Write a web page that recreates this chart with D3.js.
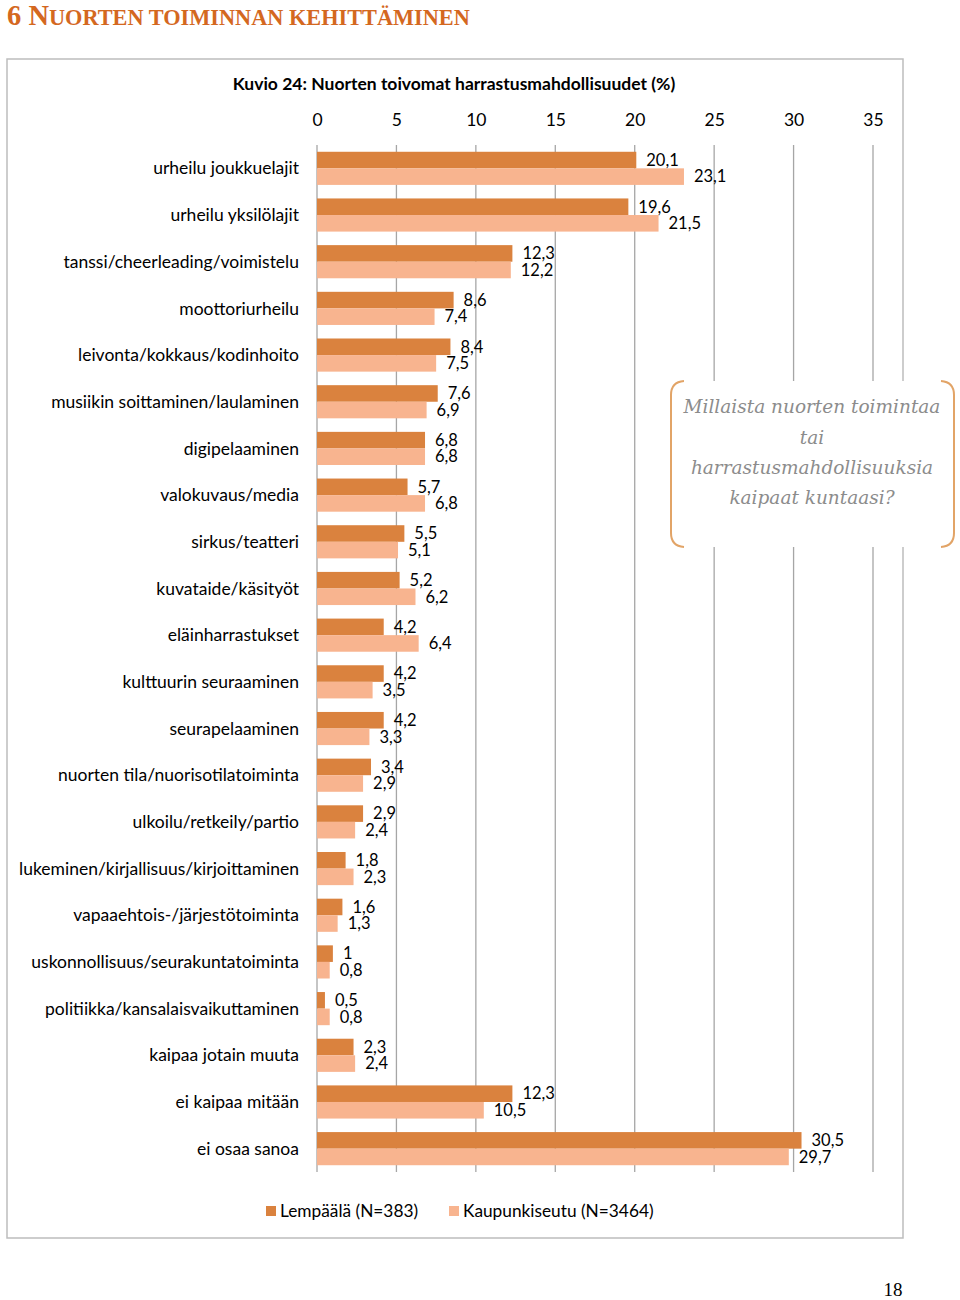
<!DOCTYPE html>
<html><head><meta charset="utf-8">
<script src="https://cdn.jsdelivr.net/npm/d3@7"></script>
<style>body{margin:0;background:#fff}svg{display:block}</style>
</head><body>
<script>
const categories = ["urheilu joukkuelajit","urheilu yksilölajit","tanssi/cheerleading/voimistelu","moottoriurheilu","leivonta/kokkaus/kodinhoito","musiikin soittaminen/laulaminen","digipelaaminen","valokuvaus/media","sirkus/teatteri","kuvataide/käsityöt","eläinharrastukset","kulttuurin seuraaminen","seurapelaaminen","nuorten tila/nuorisotilatoiminta","ulkoilu/retkeily/partio","lukeminen/kirjallisuus/kirjoittaminen","vapaaehtois-/järjestötoiminta","uskonnollisuus/seurakuntatoiminta","politiikka/kansalaisvaikuttaminen","kaipaa jotain muuta","ei kaipaa mitään","ei osaa sanoa"];
const lempaala = [20.1,19.6,12.3,8.6,8.4,7.6,6.8,5.7,5.5,5.2,4.2,4.2,4.2,3.4,2.9,1.8,1.6,1,0.5,2.3,12.3,30.5];
const kaupunkiseutu = [23.1,21.5,12.2,7.4,7.5,6.9,6.8,6.8,5.1,6.2,6.4,3.5,3.3,2.9,2.4,2.3,1.3,0.8,0.8,2.4,10.5,29.7];
const seriesNames = ["Lempäälä (N=383)","Kaupunkiseutu (N=3464)"];
const xTicks = [0,5,10,15,20,25,30,35];
const chartTitle = "Kuvio 24: Nuorten toivomat harrastusmahdollisuudet (%)";
const calloutLines = ["Millaista nuorten toimintaa","tai","harrastusmahdollisuuksia","kaipaat kuntaasi?"];

const W=960,H=1300;
const colDark="#DA823E", colLight="#F8B48F";
const font="Lato, 'Open Sans', sans-serif";
const svg=d3.select("body").append("svg").attr("width",W).attr("height",H);

// page header
const hdr=svg.append("text").attr("x",7).attr("y",25).attr("fill","#D4681F")
  .attr("font-family","'Liberation Serif', 'DejaVu Serif', serif").attr("font-weight","bold");
hdr.append("tspan").attr("font-size",28.5).text("6 N");
hdr.append("tspan").attr("font-size",22.3).text("UORTEN TOIMINNAN KEHITTÄMINEN");

// chart frame
svg.append("rect").attr("x",7).attr("y",59).attr("width",896).attr("height",1179)
  .attr("fill","#fff").attr("stroke","#BDBDBD").attr("stroke-width",1.5);

svg.append("text").attr("x",454).attr("y",90).attr("text-anchor","middle")
  .attr("font-family",font).attr("font-weight","bold").attr("font-size",17.5).attr("fill","#000").text(chartTitle);

const x=d3.scaleLinear().domain([0,35]).range([317,873]);
const y=d3.scaleBand().domain(categories).range([145,1172]);
const bh=y.bandwidth()*0.355;

// gridlines
svg.append("g").selectAll("line").data(xTicks).join("line")
  .attr("x1",d=>x(d)).attr("x2",d=>x(d)).attr("y1",145).attr("y2",1172)
  .attr("stroke","#A6A6A6").attr("stroke-width",1.3);

// top axis labels
const ax=svg.append("g").attr("transform","translate(0,126)")
  .call(d3.axisTop(x).tickValues(xTicks).tickSize(0).tickPadding(0).tickFormat(d3.format("d")));
ax.select(".domain").remove();
ax.selectAll("text").attr("font-family",font).attr("font-size",17.5).attr("fill","#000");

// category labels
svg.append("g").selectAll("text").data(categories).join("text")
  .attr("x",299).attr("y",d=>y(d)+y.bandwidth()/2).attr("dy","0.35em")
  .attr("text-anchor","end").attr("font-family",font).attr("font-size",17.5).attr("fill","#000").text(d=>d);

const fmt=v=>String(v).replace(".",",");
const series=[{vals:lempaala,col:colDark,off:-1},{vals:kaupunkiseutu,col:colLight,off:0}];
series.forEach(s=>{
  const g=svg.append("g");
  g.selectAll("rect").data(categories).join("rect")
    .attr("x",x(0)).attr("y",(d,i)=>y(d)+y.bandwidth()/2+s.off*bh)
    .attr("width",(d,i)=>x(s.vals[i])-x(0)).attr("height",bh).attr("fill",s.col);
  g.selectAll("text").data(categories).join("text")
    .attr("x",(d,i)=>x(s.vals[i])+10).attr("y",(d,i)=>y(d)+y.bandwidth()/2+s.off*bh+bh/2)
    .attr("dy","0.35em").attr("font-family",font).attr("font-size",16.5).attr("fill","#000")
    .text((d,i)=>fmt(s.vals[i]));
});

// legend
const lg=svg.append("g");
const lx=[266,449];
seriesNames.forEach((n,i)=>{
  lg.append("rect").attr("x",lx[i]).attr("y",1206).attr("width",10).attr("height",10).attr("fill",i?colLight:colDark);
  lg.append("text").attr("x",lx[i]+14).attr("y",1211).attr("dy","0.35em").attr("font-family",font)
    .attr("font-size",17.3).attr("fill","#000").text(n);
});

// callout box
const cb=svg.append("g");
cb.append("rect").attr("x",671).attr("y",381).attr("width",283).attr("height",166).attr("fill","#fff");
cb.append("path").attr("d","M684,381 Q671,382 671,395 L671,533 Q671,546 684,547").attr("fill","none").attr("stroke","#E2A467").attr("stroke-width",2);
cb.append("path").attr("d","M941,381 Q954,382 954,395 L954,533 Q954,546 941,547").attr("fill","none").attr("stroke","#E2A467").attr("stroke-width",2);
cb.selectAll("text.c").data(calloutLines).join("text").attr("class","c")
  .attr("x",812).attr("y",(d,i)=>407+i*30.3).attr("dy","0.35em").attr("text-anchor","middle")
  .attr("font-family","'DejaVu Serif', serif").attr("font-style","italic").attr("font-size",18.5)
  .attr("fill","#8C8C8C").text(d=>d);

// page number
svg.append("text").attr("x",893).attr("y",1289).attr("dy","0.35em").attr("text-anchor","middle")
  .attr("font-family","'Liberation Serif', serif").attr("font-size",19).attr("fill","#000").text("18");
</script>
</body></html>
